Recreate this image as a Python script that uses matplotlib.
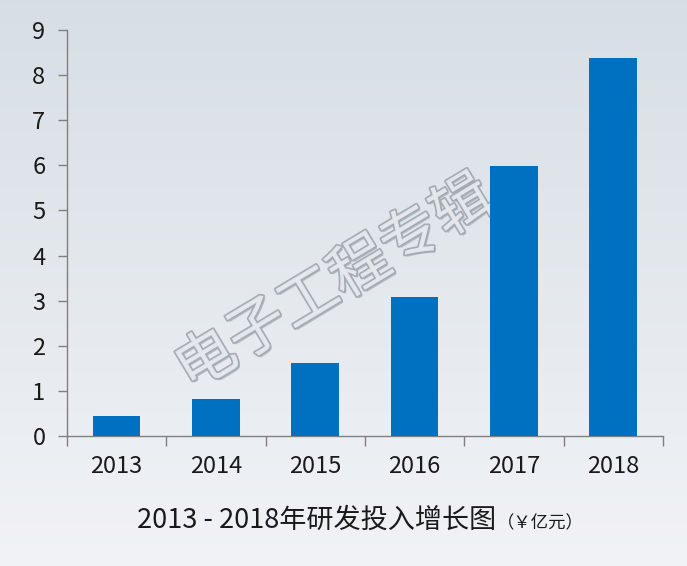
import matplotlib.pyplot as plt
import matplotlib.patheffects as pe
import numpy as np

plt.rcParams['font.family'] = ['Noto Sans CJK SC', 'DejaVu Sans']

# data
years = ['2013', '2014', '2015', '2016', '2017', '2018']
invest = [0.44, 0.83, 1.61, 3.08, 5.99, 8.38]
yticks = list(range(0, 10))

bar_color = '#0070C0'
axis_color = '#808080'

fig = plt.figure(figsize=(6.87, 5.66), dpi=100)

# background gradient
bg = fig.add_axes([0, 0, 1, 1], zorder=0)
grad = np.linspace(0, 1, 256).reshape(-1, 1)
top = np.array([0.843, 0.871, 0.898])
bot = np.array([0.945, 0.953, 0.965])
img = top[None, None, :] * (1 - grad[:, :, None]) + bot[None, None, :] * grad[:, :, None]
bg.imshow(img, aspect='auto', extent=[0, 1, 0, 1], origin='upper')
bg.set_xlim(0, 1)
bg.set_ylim(0, 1)
bg.axis('off')

ax = fig.add_axes([0.0975, 0.2297, 0.8675, 0.7173], zorder=1)
ax.patch.set_alpha(0)

x = np.arange(len(years))
ax.bar(x, invest, width=0.48, color=bar_color, zorder=3)

ax.set_xlim(-0.5, len(years) - 0.5)
ax.set_ylim(0, 9)
ax.set_yticks(yticks)
ax.set_yticklabels([str(t) for t in yticks])

# labels centred on bars, tick marks between categories
ax.set_xticks(x)
ax.set_xticklabels(years)
ax.set_xticks(np.arange(-0.5, len(years)), minor=True)
ax.tick_params(axis='x', which='major', length=0, pad=14, labelsize=17, colors='#1a1a1a')
ax.tick_params(axis='x', which='minor', length=7, width=1, color=axis_color, direction='out')
ax.tick_params(axis='y', length=6.5, width=1, color=axis_color, pad=9, labelsize=17,
               labelcolor='#1a1a1a')

for side in ['top', 'right']:
    ax.spines[side].set_visible(False)
for side in ['left', 'bottom']:
    ax.spines[side].set_color(axis_color)
    ax.spines[side].set_linewidth(1)

# watermark, behind the bars
fig.text(0.488, 0.497, '电子工程专辑', fontsize=43, rotation=31, ha='center', va='center',
         color='#e6eaee', alpha=0.95, zorder=0.5,
         path_effects=[pe.withSimplePatchShadow(offset=(1.5, -1.5), shadow_rgbFace='#9aa0a8', alpha=0.6),
                       pe.withStroke(linewidth=2.5, foreground='#a4aab2')])

# title
fig.text(0.722, 0.081, '2013 - 2018年研发投入增长图', fontsize=19.5, ha='right', va='center',
         color='#1a1a1a')
fig.text(0.724, 0.076, '（￥亿元）', fontsize=12.5, ha='left', va='center', color='#1a1a1a')

fig.savefig('out.png', dpi=100)
